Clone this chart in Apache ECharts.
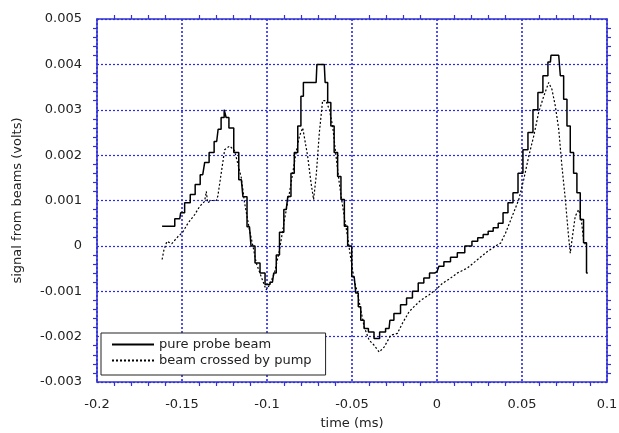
<!DOCTYPE html>
<html>
<head>
<meta charset="utf-8">
<script src="https://cdn.jsdelivr.net/npm/echarts@6/dist/echarts.min.js"></script>
<style>
  html, body { margin: 0; padding: 0; background: #fff; }
  #chart { width: 619px; height: 433px; }
</style>
</head>
<body>
<div id="chart"></div>
<script>
// time (ms) and signal (volts)
var probeTime = [
  -0.1617, -0.1572, -0.1513, -0.1503, -0.1466, -0.1437, -0.1408, -0.1378, -0.1355, -0.1326,
  -0.1296, -0.1279, -0.1261, -0.1243, -0.1238, -0.1210, -0.1181, -0.1151, -0.1132, -0.1103,
  -0.1085, -0.1056, -0.1026, -0.0997, -0.0968, -0.0953, -0.0938, -0.0915, -0.0887, -0.0868,
  -0.0850, -0.0829, -0.0809, -0.0792, -0.0780, -0.0711, -0.0702, -0.0663, -0.0653, -0.0633,
  -0.0616, -0.0594, -0.0575, -0.0555, -0.0535, -0.0516, -0.0487, -0.0469, -0.0457, -0.0440,
  -0.0418, -0.0389, -0.0352, -0.0323, -0.0282, -0.0272, -0.0235, -0.0194, -0.0164, -0.0125,
  -0.0096, -0.0059, -0.0029, 0.0000, 0.0022, 0.0059, 0.0100, 0.0139, 0.0188, 0.0223,
  0.0256, 0.0287, 0.0315, 0.0346, 0.0374, 0.0403, 0.0432, 0.0462, 0.0491, 0.0520,
  0.0550, 0.0579, 0.0608, 0.0638, 0.0667, 0.0674, 0.0716, 0.0735, 0.0755, 0.0774,
  0.0794, 0.0813, 0.0833, 0.0852, 0.0872, 0.0887
];
var probeSignal = [
  0.00043, 0.00043, 0.0006, 0.00073, 0.00095, 0.00113, 0.00135, 0.00157, 0.00184, 0.00206,
  0.0023, 0.00257, 0.00283, 0.0030, 0.00283, 0.0026, 0.00206, 0.00146, 0.00108, 0.00042,
  0.0, -0.00038, -0.0006, -0.00085, -0.0008, -0.0006, -0.0002, 0.0003, 0.0008, 0.00109,
  0.0016, 0.00206, 0.00264, 0.0033, 0.0036, 0.0036, 0.004, 0.004, 0.0036, 0.00316,
  0.00264, 0.00206, 0.00153, 0.00102, 0.00043, 0.0, -0.00068, -0.00104, -0.00134, -0.00164,
  -0.00182, -0.0019, -0.00204, -0.0019, -0.00182, -0.00164, -0.00149, -0.0013, -0.00115, -0.001,
  -0.00082, -0.00071, -0.0006, -0.00057, -0.00045, -0.00035, -0.00025, -0.00015, 0.0, 0.0001,
  0.00018, 0.00025, 0.00032, 0.0004, 0.0005, 0.00073, 0.00095, 0.00117, 0.0016, 0.00212,
  0.0025, 0.003, 0.00338, 0.00375, 0.00405, 0.0042, 0.0042, 0.00375, 0.00323, 0.00264,
  0.00206, 0.0016, 0.00117, 0.00058, 0.00007, -0.0006
];
var pumpTime = [
  -0.1617, -0.1607, -0.1589, -0.1560, -0.1525, -0.1496, -0.1465, -0.1425, -0.1396, -0.1367,
  -0.1357, -0.1349, -0.1326, -0.1298, -0.1289, -0.1249, -0.1220, -0.1191, -0.1181, -0.1151,
  -0.1132, -0.1103, -0.1083, -0.1063, -0.1034, -0.1005, -0.0985, -0.0956, -0.0927, -0.0897,
  -0.0868, -0.0849, -0.0829, -0.0809, -0.0790, -0.0780, -0.0761, -0.0741, -0.0726, -0.0711,
  -0.0692, -0.0673, -0.0653, -0.0633, -0.0614, -0.0594, -0.0575, -0.0555, -0.0526, -0.0506,
  -0.0487, -0.0467, -0.0448, -0.0428, -0.0399, -0.0370, -0.0340, -0.0311, -0.0272, -0.0233,
  -0.0204, -0.0164, -0.0135, -0.0096, -0.0047, -0.0008, 0.0031, 0.0080, 0.0119, 0.0178,
  0.0236, 0.0295, 0.0354, 0.0374, 0.0403, 0.0442, 0.0481, 0.0510, 0.0540, 0.0569,
  0.0598, 0.0628, 0.0657, 0.0676, 0.0696, 0.0716, 0.0735, 0.0755, 0.0774, 0.0784,
  0.0794, 0.0813, 0.0833, 0.0849, 0.0862, 0.0876
];
var pumpSignal = [
  -0.0003, -0.0001, 0.0001, 0.00005, 0.0002, 0.0003, 0.0005, 0.00069, 0.00087, 0.00098,
  0.0012, 0.00095, 0.001, 0.001, 0.0011, 0.00212, 0.0022, 0.0021, 0.00195, 0.0015,
  0.00095, 0.00035, 0.0, -0.00038, -0.00068, -0.00097, -0.00086, -0.0006, -0.0001, 0.00058,
  0.00117, 0.0016, 0.00206, 0.00242, 0.0026, 0.00239, 0.00198, 0.00139, 0.00102, 0.00153,
  0.0025, 0.0032, 0.0032, 0.003, 0.00264, 0.00198, 0.00139, 0.00087, 0.0002, -0.00031,
  -0.00075, -0.00105, -0.00142, -0.00179, -0.00208, -0.00219, -0.00234, -0.00223, -0.00197, -0.00193,
  -0.00171, -0.00145, -0.00134, -0.0012, -0.00108, -0.00097, -0.00083, -0.00071, -0.0006, -0.00049,
  -0.00031, -0.00013, 0.00002, 0.00006, 0.00028, 0.00065, 0.00102, 0.00146, 0.00198, 0.00242,
  0.00294, 0.0033, 0.0036, 0.00345, 0.00308, 0.00257, 0.00175, 0.00102, 0.0002, -0.00016,
  0.00013, 0.00065, 0.0008, 0.00058, 0.00013, 0.0
];
var seriesNames = ['pure probe beam', 'beam crossed by pump'];

var font = 'DejaVu Sans';
var frameBlue = '#3232d2';
var gridBlue = '#2a2ae6';

function pairs(xs, ys) {
  return xs.map(function (x, i) { return [x, ys[i]]; });
}

function axisBase(pos, min, max, step) {
  return {
    type: 'value',
    position: pos,
    min: min,
    max: max,
    interval: step,
    axisLine: { show: true, onZero: false, lineStyle: { color: frameBlue, width: 1.6 } },
    axisTick: { show: false },
    minorTick: { show: true, splitNumber: 5, length: 4, lineStyle: { color: frameBlue, width: 1.2 } },
    splitLine: { show: false },
    axisLabel: { show: false }
  };
}

var chart = echarts.init(document.getElementById('chart'), null, { renderer: 'canvas' });

var xBottom = axisBase('bottom', -0.2, 0.1, 0.05);
xBottom.axisLabel = { show: true, margin: 16, color: '#222', fontFamily: font, fontSize: 13,
  formatter: function (v) { return String(+v.toFixed(3)); } };
xBottom.splitLine = { show: true, lineStyle: { color: gridBlue, type: [2, 2], width: 1.6 } };
xBottom.name = 'time (ms)';
xBottom.nameLocation = 'middle';
xBottom.nameGap = 35;
xBottom.nameTextStyle = { color: '#222', fontFamily: font, fontSize: 13 };

var yLeft = axisBase('left', -0.003, 0.005, 0.001);
yLeft.axisLabel = { show: true, margin: 15, color: '#222', fontFamily: font, fontSize: 13,
  formatter: function (v) { return String(+v.toFixed(4)); } };
yLeft.splitLine = { show: true, lineStyle: { color: gridBlue, type: [2, 2], width: 1.2 } };
yLeft.name = 'signal from beams (volts)';
yLeft.nameLocation = 'middle';
yLeft.nameGap = 73;
yLeft.nameTextStyle = { color: '#222', fontFamily: font, fontSize: 13 };

var option = {
  animation: false,
  backgroundColor: '#fff',
  grid: { left: 97, right: 12, top: 19, bottom: 51, outerBoundsMode: 'none' },
  xAxis: [xBottom, axisBase('top', -0.2, 0.1, 0.05)],
  yAxis: [yLeft, axisBase('right', -0.003, 0.005, 0.001)],
  legend: {
    orient: 'vertical',
    left: 101,
    top: 333,
    itemWidth: 42,
    itemHeight: 12,
    itemGap: 3,
    padding: [5, 14, 8, 10],
    borderColor: '#222',
    borderWidth: 1,
    backgroundColor: '#fff',
    itemStyle: { color: 'transparent', borderWidth: 0, opacity: 0 },
    textStyle: { color: '#222', fontFamily: font, fontSize: 13 },
    data: seriesNames
  },
  series: [
    {
      name: seriesNames[0],
      type: 'line',
      data: pairs(probeTime, probeSignal),
      symbol: 'none',
      step: 'middle',
      color: '#000',
      lineStyle: { color: '#000', width: 1.5 }
    },
    {
      name: seriesNames[1],
      type: 'line',
      data: pairs(pumpTime, pumpSignal),
      symbol: 'none',
      color: '#000',
      lineStyle: { color: '#000', width: 1.2, type: [2, 2] }
    }
  ]
};
chart.setOption(option);
</script>
</body>
</html>
